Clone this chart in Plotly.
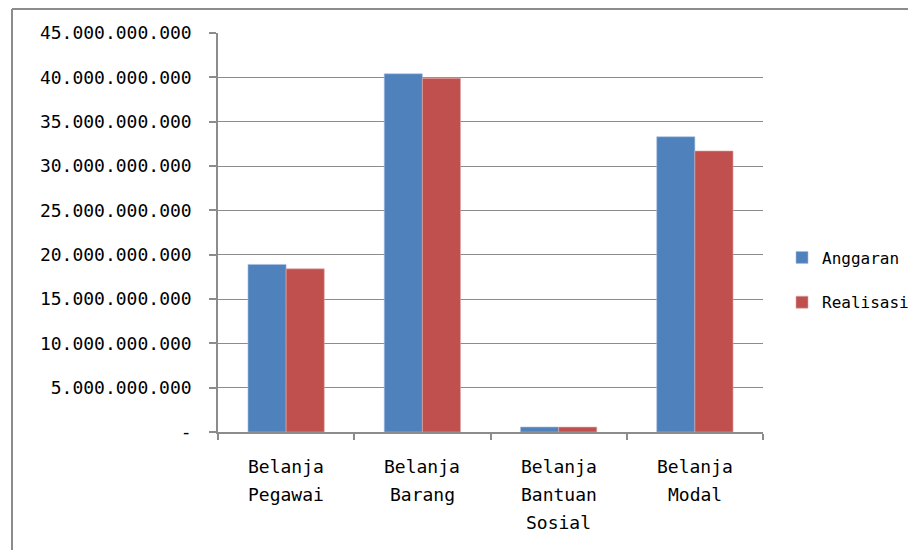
import plotly.graph_objects as go

categories = ["Belanja Pegawai", "Belanja Barang", "Belanja Bantuan Sosial", "Belanja Modal"]
category_labels = [["Belanja", "Pegawai"], ["Belanja", "Barang"], ["Belanja", "Bantuan", "Sosial"], ["Belanja", "Modal"]]
anggaran = [18.9e9, 40.4e9, 0.56e9, 33.3e9]
realisasi = [18.4e9, 39.9e9, 0.55e9, 31.7e9]
y_tickvals = [0, 5e9, 10e9, 15e9, 20e9, 25e9, 30e9, 35e9, 40e9, 45e9]
y_ticktext = ["-", "5.000.000.000", "10.000.000.000", "15.000.000.000", "20.000.000.000",
              "25.000.000.000", "30.000.000.000", "35.000.000.000", "40.000.000.000", "45.000.000.000"]

FONT = "DejaVu Sans Mono"
FS = 18
GRID = "#8c8c8c"

fig = go.Figure()
fig.add_trace(go.Bar(x=categories, y=anggaran, name="Anggaran", legendgroup="a",
                     marker=dict(color="#4F81BD", line=dict(color="#a9c1e0", width=0.6))))
fig.add_trace(go.Bar(x=categories, y=realisasi, name="Realisasi", legendgroup="r",
                     marker=dict(color="#C0504D", line=dict(color="#e0a9a7", width=0.6))))

annotations = []
for cat, lines in zip(categories, category_labels):
    for j, line in enumerate(lines):
        annotations.append(dict(x=cat, y=0, xref="x", yref="y", text=line, showarrow=False,
                                yanchor="middle", xanchor="center", yshift=-(34 + 28 * j),
                                font=dict(family=FONT, size=FS, color="#000000")))

W, H = 916, 550
L, R, T, B = 210, 161, 25, 126
pw, ph = W - L - R, H - T - B

def px(x):
    return (x - L) / pw

def py(y):
    return (H - B - y) / ph

shapes = [
    dict(type="line", xref="paper", yref="paper", x0=px(4), x1=px(904), y0=py(1), y1=py(1),
         line=dict(color="#8c8c8c", width=2)),
    dict(type="line", xref="paper", yref="paper", x0=px(4), x1=px(4), y0=py(1), y1=py(560),
         line=dict(color="#8c8c8c", width=2)),
]

fig.update_layout(
    width=W, height=H,
    margin=dict(l=L, r=R, t=T, b=B, autoexpand=False),
    paper_bgcolor="white", plot_bgcolor="white",
    barmode="group", bargap=0.44, bargroupgap=0,
    font=dict(family=FONT, size=FS, color="#000000"),
    showlegend=True,
    legend=dict(x=px(774), y=py(272), xanchor="left", yanchor="middle",
                traceorder="grouped", tracegroupgap=21, font=dict(family=FONT, size=16),
                bgcolor="rgba(0,0,0,0)"),
    annotations=annotations,
    shapes=shapes,
    xaxis=dict(type="category", showticklabels=False, showgrid=False, showline=True,
               linecolor=GRID, linewidth=1.5, ticks="outside", tickson="boundaries",
               ticklen=6, tickcolor=GRID, tickwidth=1.5, zeroline=False),
    yaxis=dict(range=[0, 45e9], tickvals=y_tickvals, ticktext=y_ticktext, showgrid=True,
               gridcolor=GRID, gridwidth=1, showline=True, linecolor=GRID, linewidth=1.5,
               ticks="outside", ticklen=7, tickcolor=GRID, tickwidth=1.5, zeroline=False,
               ticklabelstandoff=14, tickfont=dict(family=FONT, size=FS)),
)

fig.write_html("out.html")
